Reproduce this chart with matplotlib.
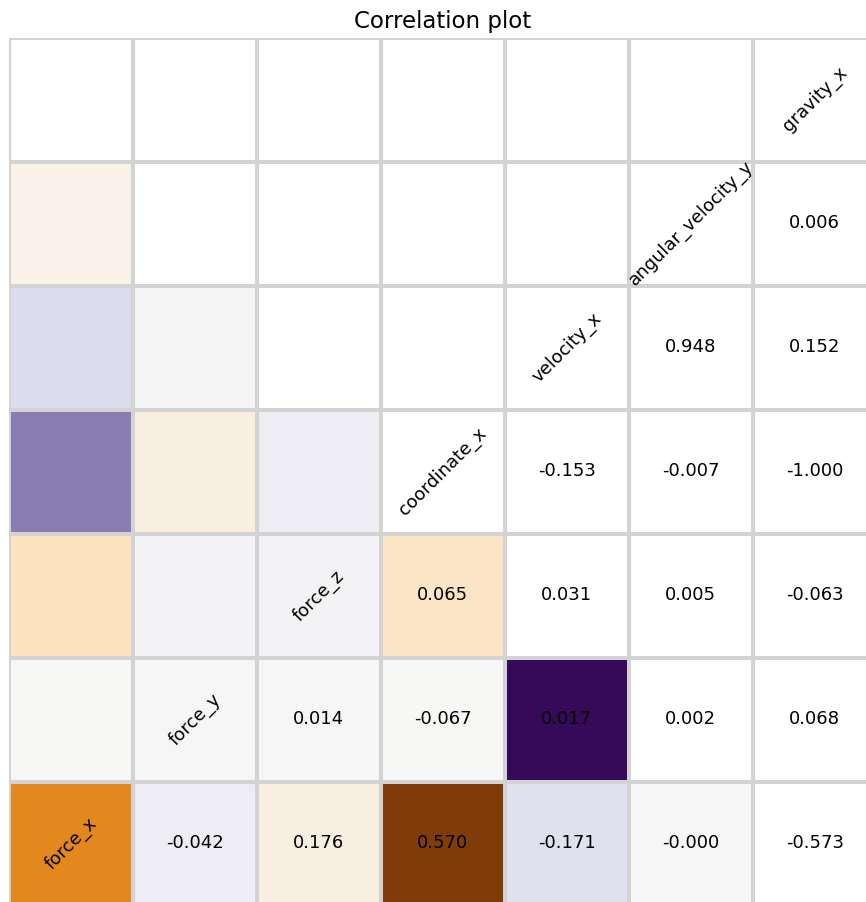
import numpy as np
import matplotlib.pyplot as plt

labels = ["force_x", "force_y", "force_z", "coordinate_x",
          "velocity_x", "angular_velocity_y", "gravity_x"]

# pairwise correlations, one row per variable
force_x = [1.000, -0.042, 0.176, 0.570, -0.171, -0.0004, -0.573]
force_y = [-0.042, 1.000, 0.014, -0.067, 0.017, 0.002, 0.068]
force_z = [0.176, 0.014, 1.000, 0.065, 0.031, 0.005, -0.063]
coordinate_x = [0.570, -0.067, 0.065, 1.000, -0.153, -0.007, -1.000]
velocity_x = [-0.171, 0.017, 0.031, -0.153, 1.000, 0.948, 0.152]
angular_velocity_y = [-0.0004, 0.002, 0.005, -0.007, 0.948, 1.000, 0.006]
gravity_x = [-0.573, 0.068, -0.063, -1.000, 0.152, 0.006, 1.000]

corr = np.array([force_x, force_y, force_z, coordinate_x,
                 velocity_x, angular_velocity_y, gravity_x])
n = len(labels)

fig = plt.figure(figsize=(8.66, 9.02), dpi=100)
ax = fig.add_axes([8.7 / 866, -3.5 / 902, 868 / 866, 868 / 902])

# heatmap of the lower triangle
mask = np.triu(np.ones_like(corr, dtype=bool))
data = np.ma.masked_array(corr, mask=mask)
ax.pcolormesh(np.arange(n + 1), np.arange(n + 1), data,
              cmap="PuOr", vmin=-1, vmax=1)

# grid
ax.vlines(np.arange(n + 1), 0, n, color="lightgray", lw=2.9, zorder=3)
ax.hlines(np.arange(n + 1), 0, n, color="lightgray", lw=2.9, zorder=3)

# names on the anti-diagonal, values to the right of it
for i in range(n):
    row = n - 1 - i
    ax.text(i + 0.5, row + 0.5, labels[i], rotation=45,
            ha="center", va="center", fontsize=13, zorder=4)
    for j in range(i + 1, n):
        ax.text(j + 0.5, row + 0.5, f"{corr[i, j]:.3f}",
                ha="center", va="center", fontsize=13, zorder=4)

ax.set_xlim(0, n)
ax.set_ylim(n, 0)
ax.set_xticks([])
ax.set_yticks([])
for s in ax.spines.values():
    s.set_visible(False)
ax.set_title("Correlation plot", fontsize=16.5, pad=7)

fig.savefig("out.png", dpi=100)
